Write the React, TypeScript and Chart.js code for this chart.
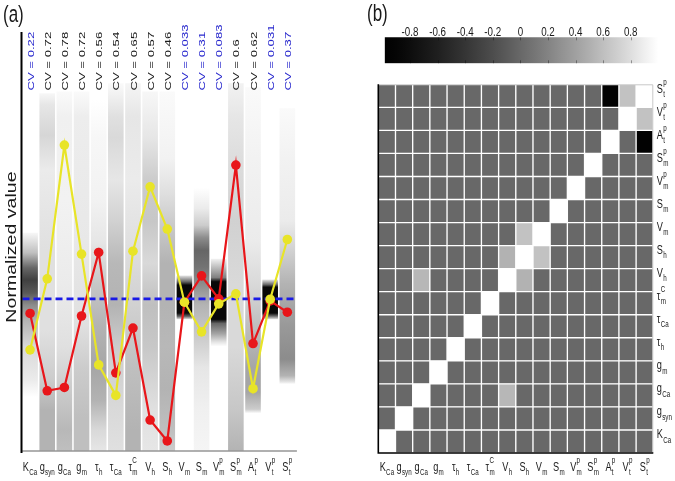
import React, { useEffect, useRef } from "react";
import { Chart, registerables } from "chart.js";
Chart.register(...registerables);

// ---------- data ----------
const paramBase = ["K", "g", "g", "g", "τ", "τ", "τ", "V", "S", "V", "S", "V", "S", "A", "V", "S"];
const paramSub = ["Ca", "syn", "Ca", "m", "h", "Ca", "m", "h", "h", "m", "m", "m", "m", "t", "t", "t"];
const paramSup = ["", "", "", "", "", "", "C", "", "", "", "", "p", "p", "p", "p", "p"];
const categories = paramBase.map((b, i) => b + "_" + paramSub[i] + (paramSup[i] ? "^" + paramSup[i] : ""));

const cvValues = ["0.22", "0.72", "0.78", "0.72", "0.56", "0.54", "0.65", "0.57", "0.46", "0.033", "0.31", "0.083", "0.6", "0.62", "0.031", "0.37"];
const cvHighlight = [true, false, false, false, false, false, false, false, false, true, true, true, false, false, true, true];

const yellowValues = [24.2, 41.2, 73.2, 47.1, 20.6, 13.3, 47.8, 63.2, 53.1, 35.6, 28.5, 35.2, 37.6, 14.9, 36.3, 50.6];
const redValues = [32.9, 14.4, 15.2, 32.3, 47.5, 18.7, 29.4, 7.4, 2.4, 35.6, 41.9, 36.4, 68.4, 25.7, 35.9, 33.2];
const referenceLevel = 36.4;

// density strips: [normalized value, darkness 0..1], from top to bottom
const stripKCa = [[52.2, 0.03], [47.4, 0.25], [43.8, 0.6], [40.9, 0.75], [37.8, 0.65], [34.9, 0.45], [31.3, 0.3], [24.9, 0.15], [17.0, 0.08], [12.9, 0.0]];
const stripGsyn = [[85.6, 0.03], [82.8, 0.1], [75.6, 0.16], [67.2, 0.08], [48.1, 0.12], [28.9, 0.12], [17, 0.2], [9.8, 0.3], [0, 0.3]];
const stripGCa = [[86, 0.02], [80, 0.06], [60, 0.05], [40, 0.08], [25, 0.12], [15, 0.2], [5, 0.28], [0, 0.25]];
const stripGm = [[86, 0.02], [80, 0.07], [50, 0.09], [30, 0.12], [20, 0.2], [8, 0.25], [0, 0.25]];
const stripTauH = [[84, 0.0], [75, 0.03], [60, 0.05], [50, 0.1], [40, 0.22], [30, 0.3], [20, 0.35], [12, 0.3], [5, 0.15], [0, 0.1]];
const stripTauCa = [[88, 0.02], [80, 0.12], [75, 0.15], [65, 0.1], [55, 0.18], [45, 0.28], [35, 0.3], [25, 0.2], [10, 0.15], [0, 0.12]];
const stripTauMC = [[88, 0.04], [80, 0.1], [65, 0.08], [50, 0.12], [35, 0.18], [20, 0.25], [5, 0.3], [0, 0.3]];
const stripVh = [[86, 0.03], [75, 0.1], [65, 0.2], [55, 0.22], [45, 0.15], [35, 0.25], [25, 0.22], [10, 0.12], [0, 0.1]];
const stripSh = [[86, 0.02], [70, 0.05], [62, 0.12], [55, 0.2], [45, 0.3], [35, 0.3], [25, 0.28], [15, 0.3], [5, 0.25], [0, 0.2]];
const stripVm = [[42, 0.1], [40.5, 0.6], [39.7, 0.97], [33, 0.97], [32.2, 0.6], [31.5, 0.1]];
const stripSm = [[63, 0.0], [58, 0.08], [54, 0.2], [51, 0.45], [48, 0.6], [44, 0.55], [40, 0.45], [35, 0.3], [27, 0.2], [20, 0.1], [10, 0.06], [0, 0.04]];
const stripVmp = [[46, 0.05], [44, 0.25], [41.5, 0.5], [40.5, 0.97], [31.5, 0.97], [30.5, 0.6], [28, 0.35], [26, 0.1], [25, 0]];
const stripSmp = [[88, 0.05], [80, 0.1], [65, 0.15], [55, 0.18], [40, 0.15], [25, 0.15], [10, 0.22], [0, 0.3]];
const stripAtp = [[87, 0.02], [70, 0.05], [50, 0.08], [40, 0.15], [30, 0.25], [20, 0.35], [14, 0.35], [10, 0.2], [9, 0]];
const stripVtp = [[41, 0.1], [39.8, 0.6], [39.2, 0.97], [33, 0.97], [32.3, 0.6], [31.5, 0.1]];
const stripStp = [[82, 0.02], [70, 0.05], [55, 0.08], [50, 0.15], [40, 0.3], [30, 0.4], [22, 0.45], [18, 0.3], [16.5, 0.1], [16, 0]];
const stripStops = [stripKCa, stripGsyn, stripGCa, stripGm, stripTauH, stripTauCa, stripTauMC, stripVh, stripSh, stripVm, stripSm, stripVmp, stripSmp, stripAtp, stripVtp, stripStp];
const stripRanges = stripStops.map((s) => [Math.min(...s.map((p) => p[0])), Math.max(...s.map((p) => p[0]))]);

// correlation matrix: non-zero off-diagonal pairs [i, j, r]
const corrPairs = [
  [15, 13, -0.95],
  [15, 14, 0.62],
  [9, 8, 0.62],
  [8, 7, 0.52],
  [7, 2, 0.55],
];
const colorbarTicks = [-0.8, -0.6, -0.4, -0.2, 0, 0.2, 0.4, 0.6, 0.8];

const corrMatrix = categories.map((_, r) => categories.map((__, c) => (r === c ? 1 : 0)));
corrPairs.forEach(([i, j, v]) => {
  corrMatrix[i][j] = v;
  corrMatrix[j][i] = v;
});

// ---------- helpers ----------
const S = 1.38; // vertical stretch of text
const FONT = '"Liberation Sans", Arial, sans-serif';
const TEXT = "#1a1a1a";

function grayOf(v: number) {
  const t = Math.min(1, Math.max(0, (v + 1) / 2));
  return Math.round(255 * Math.pow(t, 1.3));
}
function grayCss(v: number) {
  const g = grayOf(v);
  return `rgb(${g},${g},${g})`;
}

function drawRich(ctx: CanvasRenderingContext2D, x: number, y: number, base: string, sub: string, sup: string, size: number, align: "center" | "left") {
  const mainFont = `${size}px ${FONT}`;
  const small = size * 0.68;
  const smallFont = `${small}px ${FONT}`;
  ctx.font = mainFont;
  const wm = ctx.measureText(base).width;
  ctx.font = smallFont;
  const ws = sub ? ctx.measureText(sub).width : 0;
  const wp = sup ? ctx.measureText(sup).width : 0;
  const total = wm + 0.3 + Math.max(ws, wp);
  const x0 = align === "center" ? x - total / 2 : x;
  ctx.save();
  ctx.translate(x0, y);
  ctx.scale(1, S);
  ctx.fillStyle = TEXT;
  ctx.textAlign = "left";
  ctx.textBaseline = "alphabetic";
  ctx.font = mainFont;
  ctx.fillText(base, 0, 0);
  ctx.font = smallFont;
  if (sub) ctx.fillText(sub, wm + 0.3, size * 0.33);
  if (sup) ctx.fillText(sup, wm + 0.3, -size * 0.62);
  ctx.restore();
}

function drawText(ctx: CanvasRenderingContext2D, text: string, x: number, y: number, size: number, align: CanvasTextAlign, color: string, rotated = false) {
  ctx.save();
  ctx.translate(x, y);
  ctx.scale(1, S);
  if (rotated) ctx.rotate(-Math.PI / 2);
  ctx.font = `${size}px ${FONT}`;
  ctx.fillStyle = color;
  ctx.textAlign = align;
  ctx.textBaseline = "alphabetic";
  ctx.fillText(text, 0, 0);
  ctx.restore();
}

function stripColor(context: any) {
  const chart = context.chart;
  const y = chart.scales.y;
  if (!chart.chartArea || !y) return "rgba(0,0,0,0)";
  const stops = stripStops[context.dataIndex];
  if (!stops) return "rgba(0,0,0,0)";
  const [lo, hi] = stripRanges[context.dataIndex];
  const p0 = y.getPixelForValue(hi);
  const p1 = y.getPixelForValue(lo);
  if (!isFinite(p0) || !isFinite(p1) || p1 === p0) return "rgba(0,0,0,0)";
  const g = chart.ctx.createLinearGradient(0, p0, 0, p1);
  stops.forEach(([v, d]) => {
    const t = Math.min(1, Math.max(0, (y.getPixelForValue(v) - p0) / (p1 - p0)));
    const c = Math.round(255 * (1 - d));
    g.addColorStop(t, `rgb(${c},${c},${c})`);
  });
  return g;
}

// ---------- charts ----------
function leftConfig(): any {
  const labelsPlugin = {
    id: "leftDecor",
    afterDatasetDraw(chart: any, args: any) {
      if (args.index !== 0) return;
      // dashed reference level, drawn above the strips and below the lines
      const ctx = chart.ctx as CanvasRenderingContext2D;
      const area = chart.chartArea;
      const y = chart.scales.y.getPixelForValue(referenceLevel);
      ctx.save();
      ctx.strokeStyle = "rgb(25,25,230)";
      ctx.lineWidth = 2.6;
      ctx.setLineDash([7, 4]);
      ctx.beginPath();
      ctx.moveTo(area.left + 1, y);
      ctx.lineTo(area.right + 1, y);
      ctx.stroke();
      ctx.restore();
    },
    afterDraw(chart: any) {
      const ctx = chart.ctx as CanvasRenderingContext2D;
      const area = chart.chartArea;
      const xs = chart.scales.x;
      ctx.save();
      ctx.strokeStyle = "rgb(150,150,150)";
      ctx.lineWidth = 1.5;
      ctx.beginPath();
      ctx.moveTo(area.left, area.bottom);
      ctx.lineTo(area.right + 1, area.bottom);
      ctx.stroke();
      ctx.strokeStyle = "#000";
      ctx.lineWidth = 2;
      ctx.beginPath();
      ctx.moveTo(area.left, area.top - 1);
      ctx.lineTo(area.left, area.bottom + 2);
      ctx.stroke();
      ctx.restore();
      cvValues.forEach((cv, i) => {
        const x = xs.getPixelForValue(i);
        drawText(ctx, "CV = " + cv, x + 3.6, area.top + 57.5, 9.5, "left", cvHighlight[i] ? "rgb(40,40,205)" : TEXT, true);
      });
      categories.forEach((_, i) => {
        drawRich(ctx, xs.getPixelForValue(i), area.bottom + 19.5, paramBase[i], paramSub[i], paramSup[i], 9.2, "center");
      });
      drawText(ctx, "Normalized value", 15.5, (area.top + area.bottom) / 2 + 5, 14.2, "center", TEXT, true);
      drawText(ctx, "(a)", 3, 21.5, 17, "left", TEXT);
    },
  };
  return {
    type: "bar",
    data: {
      labels: categories,
      datasets: [
        {
          type: "bar",
          data: stripRanges,
          backgroundColor: stripColor,
          borderWidth: 0,
          grouped: false,
          barPercentage: 0.91,
          categoryPercentage: 1,
          order: 3,
        },
        {
          type: "line",
          data: redValues,
          borderColor: "rgb(232,22,26)",
          backgroundColor: "rgb(232,22,26)",
          pointBackgroundColor: "rgb(232,22,26)",
          pointBorderWidth: 0,
          pointRadius: 4.8,
          borderWidth: 2.2,
          order: 1,
        },
        {
          type: "line",
          data: yellowValues,
          borderColor: "rgb(232,228,40)",
          backgroundColor: "rgb(232,228,40)",
          pointBackgroundColor: "rgb(232,228,40)",
          pointBorderWidth: 0,
          pointRadius: 4.8,
          borderWidth: 2.2,
          order: 0,
        },
      ],
    },
    options: {
      responsive: false,
      animation: false,
      devicePixelRatio: 1,
      layout: { padding: { left: 21.5, right: 44.1, top: 33, bottom: 30 } },
      plugins: { legend: { display: false }, tooltip: { enabled: false } },
      scales: {
        x: { type: "category", display: false, offset: true },
        y: { type: "linear", display: false, min: 0, max: 100 },
      },
    },
    plugins: [labelsPlugin],
  };
}

function heatConfig(): any {
  const decor = {
    id: "heatDecor",
    afterDraw(chart: any) {
      const ctx = chart.ctx as CanvasRenderingContext2D;
      const area = chart.chartArea;
      const xs = chart.scales.x;
      const ys = chart.scales.y;
      ctx.save();
      ctx.strokeStyle = "rgb(200,200,200)";
      ctx.lineWidth = 1;
      ctx.beginPath();
      ctx.moveTo(area.left, area.top + 0.5);
      ctx.lineTo(area.right - 0.5, area.top + 0.5);
      ctx.lineTo(area.right - 0.5, area.bottom);
      ctx.stroke();
      ctx.strokeStyle = "#000";
      ctx.lineWidth = 1.6;
      ctx.beginPath();
      ctx.moveTo(area.left, area.top);
      ctx.lineTo(area.left, area.bottom);
      ctx.lineTo(area.right, area.bottom);
      ctx.stroke();
      ctx.restore();
      categories.forEach((_, i) => {
        drawRich(ctx, xs.getPixelForValue(i), area.bottom + 17.5, paramBase[i], paramSub[i], paramSup[i], 9.2, "center");
        const cy = ys.getPixelForValue(i + 0.5);
        drawRich(ctx, area.right + 3.5, cy - 3, paramBase[i], paramSub[i], paramSup[i], 9.2, "left");
      });
    },
  };
  return {
    type: "bar",
    data: {
      labels: categories,
      datasets: corrMatrix.map((row, r) => ({
        label: categories[r],
        data: row.map(() => 1),
        backgroundColor: row.map((v) => grayCss(v)),
        borderColor: "#ffffff",
        borderWidth: 1,
        borderSkipped: false,
        barPercentage: 1,
        categoryPercentage: 1,
      })),
    },
    options: {
      responsive: false,
      animation: false,
      devicePixelRatio: 1,
      layout: { padding: { left: 38.3, right: 21.7, top: 84.3, bottom: 28 } },
      plugins: { legend: { display: false }, tooltip: { enabled: false } },
      scales: {
        x: { type: "category", display: false, stacked: true, offset: true },
        y: { type: "linear", display: false, stacked: true, min: 0, max: 16 },
      },
    },
    plugins: [decor],
  };
}

function colorbarConfig(): any {
  const decor = {
    id: "barDecor",
    afterDraw(chart: any) {
      const ctx = chart.ctx as CanvasRenderingContext2D;
      const area = chart.chartArea;
      const xs = chart.scales.x;
      ctx.save();
      ctx.strokeStyle = "rgba(0,0,0,0.35)";
      ctx.lineWidth = 1;
      colorbarTicks.forEach((t) => {
        const x = Math.round(xs.getPixelForValue(t)) + 0.5;
        ctx.beginPath();
        ctx.moveTo(x, area.top);
        ctx.lineTo(x, area.top + 3);
        ctx.moveTo(x, area.bottom - 3);
        ctx.lineTo(x, area.bottom);
        ctx.stroke();
      });
      ctx.restore();
      colorbarTicks.forEach((t) => {
        const label = t === 0 ? "0" : t.toFixed(1);
        drawText(ctx, label, xs.getPixelForValue(t), area.top - 1.3, 9.8, "center", TEXT);
      });
      drawText(ctx, "(b)", 27, 20.5, 17, "left", TEXT);
    },
  };
  const gradient = (context: any) => {
    const chart = context.chart;
    const xs = chart.scales.x;
    if (!chart.chartArea || !xs) return "rgba(0,0,0,0)";
    const a = xs.getPixelForValue(-1);
    const b = xs.getPixelForValue(1);
    const g = chart.ctx.createLinearGradient(a, 0, b, 0);
    for (let k = 0; k <= 20; k++) {
      const v = -1 + k * 0.1;
      g.addColorStop(k / 20, grayCss(v));
    }
    return g;
  };
  return {
    type: "bar",
    data: {
      labels: [""],
      datasets: [
        {
          data: [[-0.98, 1]],
          backgroundColor: gradient,
          borderWidth: 0,
          barPercentage: 1,
          categoryPercentage: 1,
        },
      ],
    },
    options: {
      indexAxis: "y",
      responsive: false,
      animation: false,
      devicePixelRatio: 1,
      layout: { padding: { left: 42.4, right: 16.7, top: 37.3, bottom: 16.7 } },
      plugins: { legend: { display: false }, tooltip: { enabled: false } },
      scales: {
        x: { type: "linear", display: false, min: -1, max: 1 },
        y: { type: "category", display: false, offset: true },
      },
    },
    plugins: [decor],
  };
}

export default function App() {
  const leftRef = useRef<HTMLCanvasElement>(null);
  const heatRef = useRef<HTMLCanvasElement>(null);
  const barRef = useRef<HTMLCanvasElement>(null);

  useEffect(() => {
    const charts: Chart[] = [];
    if (leftRef.current) charts.push(new Chart(leftRef.current, leftConfig()));
    if (heatRef.current) charts.push(new Chart(heatRef.current, heatConfig()));
    if (barRef.current) charts.push(new Chart(barRef.current, colorbarConfig()));
    return () => charts.forEach((c) => c.destroy());
  }, []);

  return (
    <div style={{ position: "absolute", left: 0, top: 0, width: 675, height: 481, background: "#fff", overflow: "hidden" }}>
      <canvas ref={leftRef} width={340} height={481} style={{ position: "absolute", left: 0, top: 0, width: 340, height: 481 }} />
      <canvas ref={heatRef} width={335} height={481} style={{ position: "absolute", left: 340, top: 0, width: 335, height: 481 }} />
      <canvas ref={barRef} width={335} height={80} style={{ position: "absolute", left: 340, top: 0, width: 335, height: 80 }} />
    </div>
  );
}
